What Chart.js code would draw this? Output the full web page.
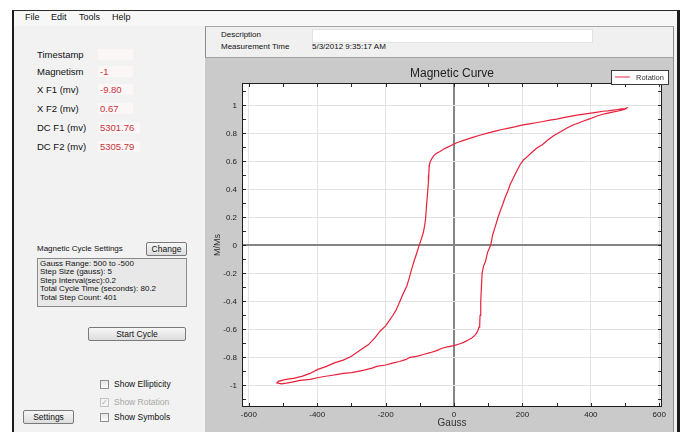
<!DOCTYPE html>
<html>
<head>
<meta charset="utf-8">
<script src="https://cdn.jsdelivr.net/npm/chart.js@4.4.0/dist/chart.umd.min.js"></script>
<style>
  body { margin: 0; width: 685px; height: 432px; background: #fff; overflow: hidden; position: relative;
         font-family: "Liberation Sans", Arial, sans-serif; color: #111; }
  .abs { position: absolute; white-space: nowrap; }
  #app { left: 12px; top: 10px; width: 663px; height: 430px; background: #f1f2f1;
         border-left: 2px solid #1b1b1b; border-top: 1px solid #2a2a2a; border-right: 3px solid #1b1b1b; }
  #menubar { left: 14px; top: 11px; width: 663px; height: 15px; background: #f6f7f6; }
  .menu { font-size: 9px; line-height: 11px; top: 12px; }
  .lbl { font-size: 9.5px; line-height: 12px; left: 37px; }
  .val { left: 98px; height: 11px; background: #fcf7f7; color: #c8323c; font-size: 9.5px; line-height: 12px; padding-left: 2px; }
  #rightPanel { left: 205px; top: 26px; width: 467px; height: 406px; background: #f0f0f0;
                border-left: 1px solid #8c8c8c; border-top: 1px solid #a8a8a8; border-right: 1px solid #8c8c8c; }
  .small { font-size: 8px; line-height: 10px; }
  #descBox { left: 312px; top: 29px; width: 279px; height: 12px; background: #fff; border: 1px solid #e2e2e2; }
  #plotWrap { left: 205px; top: 57px; width: 468px; height: 375px; background: #c9cac9; border-top: 1px solid #a0a0a0; }
  .btn { background: linear-gradient(#f7f7f7, #dddddd); border: 1px solid #7a7a7a; border-radius: 2px;
         font-size: 8.5px; text-align: center; box-sizing: border-box; }
  #infoBox { left: 37px; top: 258px; width: 150px; height: 49px; background: #e8e8e8; border: 1px solid #8a8a8a;
             box-sizing: border-box; font-size: 8px; line-height: 8.4px; padding: 1px 0 0 2px; }
  .chk { width: 9px; height: 9px; border: 1px solid #8e8f8f; background: linear-gradient(#e6e6e6, #fafafa); box-sizing: border-box; }
  .chkLbl { font-size: 8.5px; line-height: 10px; left: 114px; }
</style>
</head>
<body>
<div id="app" class="abs"></div>
<div id="menubar" class="abs"></div>
<div class="abs menu" style="left:25px">File</div>
<div class="abs menu" style="left:51px">Edit</div>
<div class="abs menu" style="left:79px">Tools</div>
<div class="abs menu" style="left:112px">Help</div>

<div class="abs lbl" style="top:49px">Timestamp</div>
<div class="abs val" style="top:49px;width:33px"></div>
<div class="abs lbl" style="top:66px">Magnetism</div>
<div class="abs val" style="top:66px;width:33px">-1</div>
<div class="abs lbl" style="top:84px">X F1 (mv)</div>
<div class="abs val" style="top:84px;width:33px">-9.80</div>
<div class="abs lbl" style="top:103px">X F2 (mv)</div>
<div class="abs val" style="top:103px;width:33px">0.67</div>
<div class="abs lbl" style="top:122px">DC F1 (mv)</div>
<div class="abs val" style="top:122px;width:40px">5301.76</div>
<div class="abs lbl" style="top:141px">DC F2 (mv)</div>
<div class="abs val" style="top:141px;width:40px">5305.79</div>

<div class="abs small" style="left:37px;top:244px">Magnetic Cycle Settings</div>
<div class="abs btn" style="left:146px;top:242px;width:41px;height:14px;line-height:12px">Change</div>
<div id="infoBox" class="abs">Gauss Range: 500 to -500<br>Step Size (gauss): 5<br>Step Interval(sec):0.2<br>Total Cycle Time (seconds): 80.2<br>Total Step Count: 401</div>
<div class="abs btn" style="left:88px;top:327px;width:98px;height:14px;line-height:12px">Start Cycle</div>

<div class="abs chk" style="left:100px;top:380px"></div>
<div class="abs chkLbl" style="top:379px">Show Ellipticity</div>
<div class="abs chk" style="left:100px;top:398px;border-color:#c4c4c4;background:#f4f4f4;font-size:8px;line-height:8px;color:#b0b0b0;text-align:center">&#10003;</div>
<div class="abs chkLbl" style="top:397px;color:#a8a8a8">Show Rotation</div>
<div class="abs chk" style="left:100px;top:413px"></div>
<div class="abs chkLbl" style="top:412px">Show Symbols</div>
<div class="abs btn" style="left:23px;top:410px;width:51px;height:14px;line-height:12px">Settings</div>

<div id="rightPanel" class="abs"></div>
<div class="abs small" style="left:221px;top:30px">Description</div>
<div id="descBox" class="abs"></div>
<div class="abs small" style="left:221px;top:42px">Measurement Time</div>
<div class="abs small" style="left:312px;top:42px">5/3/2012 9:35:17 AM</div>

<div id="plotWrap" class="abs"><canvas id="curve" width="468" height="375"></canvas></div>

<script>
// loop: upper branch right->left, then lower branch left->right
const gauss = [
  508, 500, 490, 478, 465, 450, 435, 420, 400, 380, 360, 340, 320, 300, 280, 260, 240, 220, 198, 180,
  160, 140, 120, 95, 75, 55, 30, 10, 0, -10, -20, -30, -41, -50, -58, -65, -70, -72, -73, -74,
  -75, -77, -80, -83, -86, -90, -95, -102, -109, -117, -124, -131, -138, -150, -160, -170, -180, -190, -200, -215,
  -231, -250, -275, -300, -324, -350, -373, -400, -421, -445, -470, -495, -514,
  -518, -505, -490, -470, -450, -421, -400, -380, -360, -340, -324, -300, -280, -260, -240, -226, -200, -180, -160, -140,
  -129, -110, -90, -70, -51, -35, -20, 0, 15, 28, 40, 52, 60, 66, 70, 73, 75, 76, 78, 80,
  82, 86, 92, 98, 107, 113, 120, 128, 135, 142, 149, 157, 164, 173, 183, 193, 203, 215, 228, 242,
  258, 275, 292, 310, 330, 350, 375, 398, 420, 440, 460, 480, 495, 505
];
const mms = [
  0.985, 0.978, 0.975, 0.970, 0.966, 0.961, 0.958, 0.952, 0.945, 0.938, 0.930, 0.922, 0.912, 0.902, 0.895, 0.885, 0.876, 0.868, 0.859, 0.848,
  0.838, 0.828, 0.816, 0.800, 0.787, 0.772, 0.752, 0.735, 0.724, 0.712, 0.700, 0.688, 0.671, 0.660, 0.645, 0.620, 0.595, 0.575, 0.550, 0.500,
  0.450, 0.386, 0.300, 0.195, 0.140, 0.090, 0.050, 0.000, -0.055, -0.114, -0.170, -0.233, -0.290, -0.352, -0.410, -0.465, -0.505, -0.540, -0.575, -0.610,
  -0.660, -0.709, -0.750, -0.793, -0.820, -0.840, -0.865, -0.888, -0.915, -0.936, -0.950, -0.960, -0.972, -0.983,
  -0.990, -0.985, -0.975, -0.965, -0.957, -0.946, -0.937, -0.930, -0.922, -0.915, -0.910, -0.900, -0.890, -0.877, -0.865, -0.855, -0.842, -0.830, -0.815, -0.800,
  -0.793, -0.780, -0.767, -0.752, -0.735, -0.725, -0.716, -0.705, -0.693, -0.678, -0.662, -0.645, -0.628, -0.605, -0.585, -0.565, -0.500, -0.400, -0.300, -0.200,
  -0.150, -0.114, -0.050, 0.000, 0.076, 0.130, 0.195, 0.245, 0.290, 0.340, 0.386, 0.435, 0.480, 0.530, 0.576, 0.610, 0.636, 0.665, 0.695, 0.719,
  0.755, 0.785, 0.810, 0.838, 0.862, 0.885, 0.905, 0.926, 0.940, 0.950, 0.960, 0.970, 0.978, 0.985
];
const xTickValues = [-600, -400, -200, 0, 200, 400, 600];
const yTickValues = [-1, -0.8, -0.6, -0.4, -0.2, 0, 0.2, 0.4, 0.6, 0.8, 1];
const xMinorTicks = [-600, -500, -400, -300, -200, -100, 0, 100, 200, 300, 400, 500, 600];
const yMinorTicks = [-1.1, -1, -0.9, -0.8, -0.7, -0.6, -0.5, -0.4, -0.3, -0.2, -0.1, 0, 0.1, 0.2, 0.3, 0.4, 0.5, 0.6, 0.7, 0.8, 0.9, 1, 1.1];

const points = gauss.map((g, i) => ({ x: g, y: mms[i] }));

// white plot area, frame, inward minor ticks and the legend box
const plotDecor = {
  id: "plotDecor",
  beforeDraw(chart) {
    const a = chart.chartArea, c = chart.ctx;
    c.save();
    c.fillStyle = "#fff";
    c.fillRect(a.left, a.top, a.right - a.left, a.bottom - a.top);
    c.restore();
  },
  afterDraw(chart) {
    const a = chart.chartArea, c = chart.ctx;
    const xs = chart.scales.x, ys = chart.scales.y;
    c.save();
    c.strokeStyle = "#2b2b2b";
    c.lineWidth = 1;
    c.beginPath();
    xMinorTicks.forEach(v => {
      const p = Math.round(xs.getPixelForValue(v)) + 0.5;
      c.moveTo(p, a.top); c.lineTo(p, a.top + 4);
      c.moveTo(p, a.bottom); c.lineTo(p, a.bottom - 4);
    });
    yMinorTicks.forEach(v => {
      const p = Math.round(ys.getPixelForValue(v)) + 0.5;
      c.moveTo(a.left, p); c.lineTo(a.left + 4, p);
      c.moveTo(a.right, p); c.lineTo(a.right - 4, p);
    });
    c.stroke();
    c.strokeStyle = "#1e1e1e";
    c.strokeRect(a.left + 0.5, a.top + 0.5, a.right - a.left - 1, a.bottom - a.top - 1);

    // legend
    const ds = chart.data.datasets[0];
    c.fillStyle = "#fff";
    c.fillRect(406, 12, 57, 14);
    c.strokeStyle = "#3a3a3a";
    c.strokeRect(406.5, 12.5, 57, 14);
    c.strokeStyle = "#f07080";
    c.lineWidth = 1.5;
    c.beginPath(); c.moveTo(410, 19); c.lineTo(425, 19); c.stroke();
    c.fillStyle = "#333";
    c.font = "7.5px 'Liberation Sans', Arial, sans-serif";
    c.textBaseline = "middle";
    c.fillText(ds.label, 431, 19.5);
    c.restore();
  }
};

const tickFont = { family: "'Liberation Sans', Arial, sans-serif", size: 8 };

new Chart(document.getElementById("curve"), {
  type: "scatter",
  data: {
    datasets: [{
      label: "Rotation",
      data: points,
      showLine: true,
      borderColor: "#e8203a",
      borderWidth: 1.2,
      pointRadius: 0,
      tension: 0
    }]
  },
  options: {
    responsive: false,
    animation: false,
    layout: { padding: { left: 0, right: 11, top: 0, bottom: 0 } },
    plugins: {
      legend: { display: false },
      tooltip: { enabled: false },
      title: {
        display: true,
        text: "Magnetic Curve",
        fullSize: false,
        color: "#222",
        font: { family: "'Liberation Sans', Arial, sans-serif", size: 12, weight: "normal", lineHeight: 1.2 },
        padding: { top: 8, bottom: 2.6 }
      }
    },
    scales: {
      x: {
        type: "linear",
        min: -620,
        max: 608,
        afterBuildTicks: s => { s.ticks = xTickValues.map(v => ({ value: v })); },
        afterFit: s => { s.height = 26; },
        border: { display: false },
        grid: {
          drawTicks: false,
          color: ctx => (ctx.tick && ctx.tick.value === 0 ? "#858585" : "#e3e3e3"),
          lineWidth: ctx => (ctx.tick && ctx.tick.value === 0 ? 2 : 1)
        },
        ticks: { color: "#222", font: tickFont, padding: 3, maxRotation: 0, autoSkip: false },
        title: {
          display: true, text: "Gauss", color: "#333",
          font: { family: "'Liberation Sans', Arial, sans-serif", size: 10, lineHeight: 1.2 },
          padding: { top: 0, bottom: 4 }
        }
      },
      y: {
        type: "linear",
        min: -1.155,
        max: 1.16,
        afterBuildTicks: s => { s.ticks = yTickValues.map(v => ({ value: v })); },
        afterFit: s => { s.width = 37; },
        border: { display: false },
        grid: {
          drawTicks: false,
          color: ctx => (ctx.tick && ctx.tick.value === 0 ? "#858585" : "#e3e3e3"),
          lineWidth: ctx => (ctx.tick && ctx.tick.value === 0 ? 2 : 1)
        },
        ticks: {
          color: "#222", font: tickFont, padding: 5,
          callback: v => String(Number(v.toFixed(1)))
        },
        title: {
          display: true, text: "M/Ms", color: "#333",
          font: { family: "'Liberation Sans', Arial, sans-serif", size: 9, lineHeight: 1.2 },
          padding: { top: 7.5, bottom: 0 }
        }
      }
    }
  },
  plugins: [plotDecor]
});
</script>
</body>
</html>
